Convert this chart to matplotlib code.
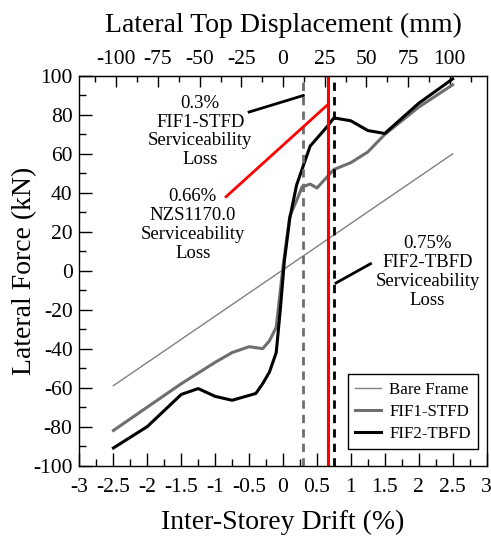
import matplotlib
matplotlib.use("Agg")
import matplotlib.pyplot as plt
from matplotlib.ticker import MultipleLocator

plt.rcParams['font.family'] = ['Liberation Serif', 'DejaVu Serif']
plt.rcParams['mathtext.fontset'] = 'stix'

# Data (drift %, force kN)
bare_x = [-2.5, 2.5]
bare_y = [-59, 60]

fif1_x = [-2.5, -2.0, -1.5, -1.0, -0.75, -0.5, -0.3, -0.2, -0.1, 0.0, 0.1, 0.2, 0.28, 0.4, 0.5, 0.75, 1.0, 1.25, 1.5, 2.0, 2.5]
fif1_y = [-82, -70, -58, -47, -42, -39, -40, -36, -29, 2, 28, 36, 43, 44.5, 42.5, 52, 55.5, 61, 70, 84, 95.5]

fif2_x = [-2.5, -2.0, -1.5, -1.25, -1.0, -0.75, -0.4, -0.3, -0.2, -0.1, -0.04, 0.02, 0.1, 0.2, 0.4, 0.65, 0.75, 1.0, 1.25, 1.5, 2.0, 2.5]
fif2_y = [-91, -80, -63.5, -60.5, -64.5, -66.5, -63, -58, -52, -42, -20, 5, 27, 44, 64, 74, 78.5, 77, 72, 70.5, 86, 98.5]

drift_fif1 = 0.3
drift_nzs = 0.66
drift_fif2 = 0.75

top_ticks = [-100, -75, -50, -25, 0, 25, 50, 75, 100]
mm_per_pct = 40.7

fig = plt.figure(figsize=(4.91, 5.36), dpi=100)
ax = fig.add_axes([0.1619, 0.1315, 0.829, 0.7267])

ax.plot(bare_x, bare_y, color='#808080', lw=1.0, label='Bare Frame')
ax.plot(fif1_x, fif1_y, color='#6e6e6e', lw=2.2, label='FIF1-STFD')
ax.plot(fif2_x, fif2_y, color='black', lw=2.2, label='FIF2-TBFD')

ax.axvline(drift_fif1, color='#6e6e6e', lw=2.0, ls=(0, (3, 2.2)))
ax.axvline(drift_nzs, color='red', lw=2.2)
ax.axvline(drift_fif2, color='black', lw=2.0, ls=(0, (3, 2.2)))

# annotation leader lines
ax.plot([-0.5, drift_fif1], [81.5, 90], color='black', lw=2.0)
ax.plot([-0.84, drift_nzs - 0.01], [38, 85], color='red', lw=2.0)
ax.plot([0.78, 1.29], [-6.3, 3.6], color='black', lw=2.0)

fs = 13.5
ls_txt = 1.15
ax.text(-1.22, 71.5, '0.3%\nFIF1-STFD\nServiceability\nLoss', ha='center', va='center',
        fontsize=fs, linespacing=ls_txt)
ax.text(-1.33, 23.5, '0.66%\nNZS1170.0\nServiceability\nLoss', ha='center', va='center',
        fontsize=fs, linespacing=ls_txt)
ax.text(2.13, -0.5, '0.75%\nFIF2-TBFD\nServiceability\nLoss', ha='center', va='center',
        fontsize=fs, linespacing=ls_txt)

ax.set_xlim(-3, 3)
ax.set_ylim(-100, 100)
ax.xaxis.set_minor_locator(MultipleLocator(0.25))
ax.yaxis.set_minor_locator(MultipleLocator(10))
ax.set_xticks([-3, -2.5, -2, -1.5, -1, -0.5, 0, 0.5, 1, 1.5, 2, 2.5, 3])
ax.set_xticklabels(['-3', '-2.5', '-2', '-1.5', '-1', '-0.5', '0', '0.5', '1', '1.5', '2', '2.5', '3'])
ax.set_yticks(range(-100, 101, 20))
ax.set_yticklabels([str(v) for v in range(-100, 101, 20)])
ax.tick_params(which='major', direction='in', length=9.5, width=1.0, labelsize=15.5, pad=5)
ax.tick_params(which='minor', direction='in', length=5, width=1.0)
ax.tick_params(axis='x', which='major', pad=9)
ax.tick_params(top=False, right=False)
ax.set_xlabel('Inter-Storey Drift (%)', fontsize=20, labelpad=9)
ax.set_ylabel('Lateral Force (kN)', fontsize=20, labelpad=-3)

sec = ax.secondary_xaxis('top', functions=(lambda x: x * mm_per_pct, lambda m: m / mm_per_pct))
sec.set_xticks(top_ticks)
sec.set_xticklabels([str(t) for t in top_ticks])
sec.xaxis.set_minor_locator(MultipleLocator(12.5))
sec.tick_params(which='major', direction='in', length=8, width=1.0, labelsize=15.5, pad=5)
sec.tick_params(which='minor', direction='in', length=4.5, width=1.0)
sec.set_xlabel('Lateral Top Displacement (mm)', fontsize=20, labelpad=13)

for s in ax.spines.values():
    s.set_linewidth(1.0)

leg = ax.legend(loc='lower right', fontsize=12.2, frameon=True, fancybox=False,
                edgecolor='black', framealpha=1, handlelength=1.5, borderpad=0.45,
                labelspacing=0.35, handletextpad=0.5, borderaxespad=0,
                bbox_to_anchor=(0.98, 0.0416))
leg.get_frame().set_linewidth(1.0)

fig.savefig('out.png', dpi=100)
